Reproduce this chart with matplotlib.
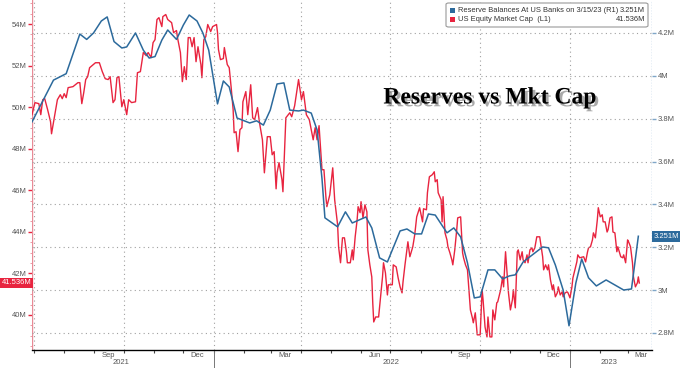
import matplotlib
matplotlib.use("Agg")
import matplotlib.pyplot as plt
import matplotlib.dates as mdates
import matplotlib.patheffects as pe
from matplotlib.patches import FancyBboxPatch, Rectangle
import numpy as np
import pandas as pd

# --- data (days counted from 2021-06-29) ---
start = pd.Timestamp("2021-06-29")

# US Equity Market Cap (L1), millions
mc_day = [0, 3, 7, 9, 11, 13, 16, 19, 20, 23, 26, 29, 31, 33, 35, 37, 42, 47, 49, 51,
          53, 55, 57, 59, 65, 69, 72, 75, 78, 80, 83, 85, 87, 89, 92, 94, 97, 99, 102, 106,
          108, 111, 114, 117, 119, 122, 124, 126, 128, 130, 133, 134, 137, 139, 143, 145, 148, 149, 152, 154,
          156, 158, 160, 162, 164, 166, 168, 170, 173, 174, 176, 178, 180, 183, 185, 189, 190, 191, 193, 196,
          197, 200, 202, 204, 206, 207, 209, 211, 213, 215, 216, 219, 221, 224, 226, 228, 231, 233, 236, 238,
          241, 244, 246, 248, 250, 251, 253, 256, 257, 260, 264, 266, 269, 273, 276, 278, 281, 284, 287, 288,
          290, 292, 294, 297, 299, 301, 302, 305, 308, 310, 313, 314, 316, 318, 320, 322, 323, 326, 328, 329,
          331, 333, 334, 336, 337, 339, 341, 343, 344, 346, 348, 349, 350, 352, 355, 357, 359, 360, 362, 364,
          365, 369, 370, 373, 375, 377, 379, 380, 382, 384, 385, 387, 390, 392, 394, 397, 400, 401, 404, 405,
          407, 410, 412, 413, 415, 416, 419, 420, 421, 423, 425, 426, 428, 430, 431, 433, 435, 436, 439, 441,
          442, 444, 446, 447, 449, 451, 452, 454, 456, 459, 461, 462, 464, 466, 467, 469, 471, 472, 474, 476,
          477, 480, 482, 483, 485, 487, 488, 490, 492, 493, 495, 497, 498, 500, 502, 503, 505, 507, 508, 510,
          512, 513, 515, 517, 520, 523, 524, 526, 528, 529, 531, 533, 534, 536, 538, 539, 541, 543, 544, 546,
          548, 549, 551, 553, 554, 556, 558, 559, 561, 565, 567, 569, 570, 572, 574, 575, 577, 579, 580, 582,
          584, 585, 587, 589, 590, 592, 594, 595, 597, 599, 600, 603, 605, 606, 608, 610, 611, 613, 615, 616,
          618, 620, 621, 622]
mc_val = [49.64, 50.22, 50.17, 49.64, 50.36, 50.41, 49.88, 49.30, 48.72, 49.54, 50.36, 50.60, 50.41, 50.65, 50.46, 50.94, 50.99, 51.18, 51.18, 50.17,
          50.70, 51.33, 51.47, 51.90, 52.14, 52.14, 51.71, 51.37, 51.33, 51.47, 50.22, 50.36, 51.42, 51.47, 50.02, 50.36, 49.64, 50.36, 50.22, 50.26,
          51.66, 51.71, 52.63, 52.48, 52.63, 52.39, 53.11, 53.25, 54.22, 54.31, 53.88, 54.36, 54.46, 54.22, 54.07, 53.59, 53.69, 53.35, 52.63, 51.23,
          51.95, 51.33, 53.35, 53.35, 52.91, 53.35, 52.19, 52.91, 52.05, 51.42, 53.25, 53.40, 53.98, 53.64, 53.88, 53.98, 53.59, 52.77, 52.29, 52.34,
          52.87, 52.05, 51.90, 50.94, 49.88, 48.77, 48.82, 47.86, 48.92, 49.01, 50.26, 50.75, 49.64, 51.08, 49.49, 49.40, 49.98, 49.25, 48.43, 46.84,
          48.58, 48.58, 47.71, 47.86, 46.07, 46.84, 47.33, 46.51, 45.93, 49.49, 49.73, 49.54, 50.07, 51.33, 50.36, 50.75, 49.64, 49.40, 48.67, 48.43,
          49.01, 48.43, 49.11, 46.99, 46.99, 45.69, 45.21, 45.78, 47.08, 45.54, 44.34, 43.28, 42.51, 43.71, 43.71, 43.04, 42.51, 42.51, 43.13, 42.65,
          43.76, 44.58, 45.21, 44.92, 45.45, 44.67, 45.30, 44.96, 43.13, 42.41, 41.83, 40.58, 39.66, 39.90, 39.90, 40.87, 41.83, 42.51, 42.02, 40.96,
          41.45, 41.45, 42.41, 42.31, 41.78, 41.35, 41.06, 41.59, 42.41, 43.13, 43.52, 42.80, 43.28, 43.86, 44.72, 45.16, 44.48, 45.11, 45.06, 45.88,
          46.65, 46.75, 46.89, 46.41, 46.51, 45.88, 45.54, 44.48, 45.69, 43.95, 43.61, 43.28, 42.99, 42.65, 42.41, 43.13, 44.10, 44.67, 44.72, 42.99,
          42.75, 42.41, 42.17, 41.54, 40.24, 39.86, 39.62, 40.10, 39.04, 39.04, 41.21, 40.72, 39.42, 38.94, 39.90, 38.94, 38.94, 40.24, 39.76, 40.58,
          40.63, 41.21, 41.83, 41.35, 43.04, 41.69, 41.06, 40.24, 40.72, 41.21, 40.34, 43.04, 43.13, 42.65, 43.04, 42.65, 42.51, 42.89, 42.51, 43.13,
          43.23, 43.04, 43.23, 43.76, 43.76, 42.80, 42.17, 42.41, 42.17, 42.41, 41.69, 41.21, 41.45, 40.87, 41.06, 41.35, 40.96, 41.11, 40.87, 41.06,
          41.11, 41.06, 40.82, 41.35, 41.78, 42.17, 42.55, 42.89, 42.75, 42.80, 42.55, 43.04, 43.23, 43.28, 43.61, 43.95, 43.71, 44.58, 45.16, 44.72,
          44.82, 44.48, 44.48, 43.99, 44.10, 44.67, 44.72, 43.99, 43.95, 43.04, 43.28, 42.80, 42.75, 42.89, 42.51, 43.61, 43.52, 43.28, 42.51, 41.83,
          41.35, 41.54, 41.83, 41.536]

# Reserve Balances At US Banks (R1), millions
rb_day = [0, 13, 22, 35, 49, 56, 63, 71, 77, 84, 92, 97, 106, 114, 120, 126, 133, 139, 148, 155,
          161, 169, 175, 181, 190, 196, 202, 210, 223, 230, 237, 244, 251, 258, 264, 273, 278, 286, 292, 297,
          300, 313, 321, 328, 342, 348, 356, 364, 377, 384, 392, 399, 406, 413, 425, 432, 439, 446, 453, 459,
          467, 474, 482, 489, 495, 503, 523, 529, 536, 544, 550, 557, 563, 570, 578, 588, 606, 614, 621]
rb_val = [3.785, 3.90, 3.98, 4.01, 4.195, 4.17, 4.20, 4.256, 4.275, 4.16, 4.13, 4.135, 4.20, 4.12, 4.083, 4.09, 4.167, 4.214, 4.17, 4.237,
          4.284, 4.256, 4.20, 4.12, 3.869, 3.976, 3.948, 3.803, 3.78, 3.79, 3.77, 3.84, 3.962, 3.967, 3.84, 3.836, 3.84, 3.826, 3.747, 3.52,
          3.337, 3.295, 3.365, 3.313, 3.341, 3.29, 3.15, 3.131, 3.276, 3.285, 3.262, 3.262, 3.355, 3.35, 3.267, 3.29, 3.248, 3.127, 2.963, 2.968,
          3.094, 3.094, 3.052, 3.066, 3.071, 3.131, 3.201, 3.197, 3.117, 3.0, 2.833, 3.033, 3.145, 3.057, 3.019, 3.047, 3.0, 3.005, 3.251]

left_ticks = [40, 42, 44, 46, 48, 50, 52, 54]
right_ticks = [2.8, 3.0, 3.2, 3.4, 3.6, 3.8, 4.0, 4.2]
right_labels = ["2.8M", "3M", "3.2M", "3.4M", "3.6M", "3.8M", "4M", "4.2M"]
month_labels = ["Sep", "Dec", "Mar", "Jun", "Sep", "Dec", "Mar"]
month_label_dates = ["2021-09-15", "2021-12-15", "2022-03-15", "2022-06-15",
                     "2022-09-15", "2022-12-15", "2023-03-15"]
quarter_lines = ["2021-07-01", "2021-10-01", "2022-01-01", "2022-04-01",
                 "2022-07-01", "2022-10-01", "2023-01-01"]
years = ["2021", "2022", "2023"]
year_label_dates = ["2021-09-28", "2022-07-02", "2023-02-10"]
year_breaks = ["2022-01-01", "2023-01-01"]

RED = "#e8243f"
BLUE = "#2c6a9c"
GRAY = "#555555"

mc_dates = start + pd.to_timedelta(mc_day, unit="D")
rb_dates = start + pd.to_timedelta(rb_day, unit="D")

fig = plt.figure(figsize=(6.8, 3.68), dpi=100)
ax = fig.add_axes([32 / 680, 18 / 368, 620 / 680, 350 / 368])
ax2 = ax.twinx()

ax.plot(mc_dates, mc_val, color=RED, lw=1.0, zorder=3)
ax2.plot(rb_dates, rb_val, color=BLUE, lw=1.1, zorder=3)

ax.set_xlim(pd.Timestamp("2021-06-29"), pd.Timestamp("2023-03-26"))
ax.set_ylim(38.31, 55.16)
ax2.set_ylim(2.72, 4.354)

# left axis (market cap)
ax.set_yticks(left_ticks)
ax.set_yticklabels([f"{v}M" for v in left_ticks])
ax.set_yticks(np.arange(38.5, 55.1, 0.5), minor=True)
ax.tick_params(axis="y", which="major", colors=RED, length=3, width=1, pad=1,
               labelsize=5.5, labelcolor=GRAY)
ax.tick_params(axis="y", which="minor", colors="#e88a96", length=1.5, width=0.6)

# right axis (reserves)
ax2.set_yticks(right_ticks)
ax2.set_yticklabels(right_labels)
ax2.tick_params(axis="y", which="major", colors="#7fa6c8", length=3, width=1, pad=1,
                labelsize=5.5, labelcolor=GRAY)
ax2.grid(axis="y", color="#a0a0a0", linestyle=(0, (1, 3)), lw=0.8)

# x axis
ax.xaxis.set_major_locator(mdates.MonthLocator())
ax.xaxis.set_major_formatter(plt.NullFormatter())
ax.set_xticks(pd.to_datetime(month_label_dates), minor=True)
ax.set_xticklabels(month_labels, minor=True)
ax.tick_params(axis="x", which="major", length=2.5, width=0.8, colors="#444444")
ax.tick_params(axis="x", which="minor", length=0, pad=1.5, labelsize=5.5, labelcolor=GRAY)
for d in quarter_lines:
    ax.axvline(pd.Timestamp(d), color="#a0a0a0", linestyle=(0, (1, 3)), lw=0.8, zorder=1)
trans = ax.get_xaxis_transform()
for d in year_breaks:
    ax.plot([pd.Timestamp(d)] * 2, [0, -0.055], transform=trans, color="#777777",
            lw=0.7, clip_on=False)
for y, d in zip(years, year_label_dates):
    ax.text(pd.Timestamp(d), -0.036, y, transform=trans, ha="center", va="center",
            fontsize=5.5, color=GRAY, family="Liberation Sans")

for a in (ax, ax2):
    a.spines["top"].set_visible(False)
    a.spines["left"].set_visible(False)
    a.spines["right"].set_visible(False)
ax.spines["bottom"].set_color("#555555")
ax.spines["bottom"].set_linewidth(1.0)
ax.axvline(ax.get_xlim()[0], color="#e88a96", lw=1.0, zorder=2)
ax.axvline(ax.get_xlim()[1], color="#8fb3d6", lw=1.0, linestyle=(0, (1, 1)), zorder=2)

for lab in ax.get_yticklabels() + ax2.get_yticklabels() + ax.get_xticklabels(minor=True):
    lab.set_family("Liberation Sans")

# value tags on the axes
ax.text(-0.001, mc_val[-1], f"{mc_val[-1]}M", transform=ax.get_yaxis_transform(),
        ha="right", va="center", fontsize=5.5, color="white", family="Liberation Sans",
        bbox=dict(boxstyle="square,pad=0.25", fc=RED, ec="none"), zorder=5)
ax2.text(1.003, rb_val[-1], f"{rb_val[-1]}M", transform=ax2.get_yaxis_transform(),
         ha="left", va="center", fontsize=5.5, color="white", family="Liberation Sans",
         bbox=dict(boxstyle="square,pad=0.25", fc=BLUE, ec="none"), zorder=5)

# legend box
fig.patches.append(FancyBboxPatch((446 / 680, 1 - 27 / 368), 202 / 680, 24 / 368,
                                  boxstyle="round,pad=0,rounding_size=0.004",
                                  transform=fig.transFigure, fc="white", ec="#999999",
                                  lw=0.8, zorder=10))
fig.patches.append(Rectangle((450 / 680, 1 - 13 / 368), 5 / 680, 5 / 368,
                             transform=fig.transFigure, fc=BLUE, ec="none", zorder=11))
fig.patches.append(Rectangle((450 / 680, 1 - 22 / 368), 5 / 680, 5 / 368,
                             transform=fig.transFigure, fc=RED, ec="none", zorder=11))
fig.text(458 / 680, 1 - 10.5 / 368, "Reserve Balances At US Banks on 3/15/23 (R1)",
         fontsize=5.4, family="Liberation Sans", color="#333333", va="center", zorder=12)
fig.text(458 / 680, 1 - 19.5 / 368, "US Equity Market Cap  (L1)",
         fontsize=5.4, family="Liberation Sans", color="#333333", va="center", zorder=12)
fig.text(645 / 680, 1 - 10.5 / 368, f"{rb_val[-1]}M", ha="right",
         fontsize=5.4, family="Liberation Sans", color="#333333", va="center", zorder=12)
fig.text(645 / 680, 1 - 19.5 / 368, f"{mc_val[-1]}M", ha="right",
         fontsize=5.4, family="Liberation Sans", color="#333333", va="center", zorder=12)

# title
fig.text(490 / 680, 1 - 98 / 368, "Reserves vs Mkt Cap", ha="center", va="center",
         fontsize=17, fontweight="bold", family="Liberation Serif", color="black",
         path_effects=[pe.withSimplePatchShadow(offset=(2, -2), shadow_rgbFace="#555555", alpha=0.5)],
         zorder=12)

fig.savefig("out.png", dpi=100)
